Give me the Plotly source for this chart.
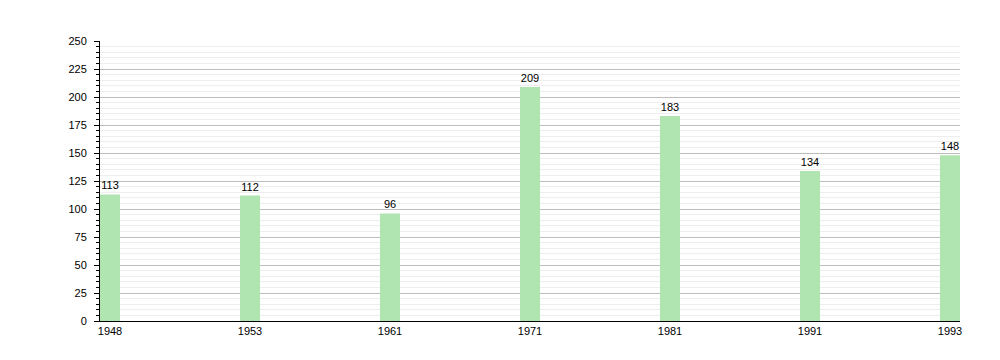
import plotly.graph_objects as go

years = ["1948", "1953", "1961", "1971", "1981", "1991", "1993"]
population = [113, 112, 96, 209, 183, 134, 148]
y_ticks = [0, 25, 50, 75, 100, 125, 150, 175, 200, 225, 250]

idx = list(range(len(years)))
w = 20 / 140

fig = go.Figure(go.Bar(
    x=idx, y=population, width=w,
    marker=dict(color="#b0e4b0", line=dict(width=0)),
    text=[str(v) for v in population], textposition="outside",
    textfont=dict(size=11, color="#000", family="Liberation Sans, Arial, sans-serif"),
    cliponaxis=False,
))

fig.update_layout(
    width=1000, height=360,
    margin=dict(l=100, r=40, t=41, b=39),
    paper_bgcolor="white", plot_bgcolor="white",
    font=dict(family="Liberation Sans, Arial, sans-serif", size=11, color="#000"),
    showlegend=False,
    xaxis=dict(
        range=[-w / 2, len(years) - 1 + w / 2],
        tickvals=idx, ticktext=years, ticks="", showgrid=False,
        showline=True, linecolor="#000", linewidth=1, zeroline=False,
    ),
    yaxis=dict(
        range=[0, 250], tickvals=y_ticks, ticks="outside", ticklen=5, tickcolor="#000",
        ticklabelstandoff=5,
        showline=True, linecolor="#000", linewidth=1, zeroline=False,
        showgrid=True, gridcolor="#bdbdbd", gridwidth=1,
        minor=dict(dtick=5, ticks="outside", ticklen=3, tickcolor="#000",
                   showgrid=True, gridcolor="#eeeeee", gridwidth=1),
    ),
)

fig.write_html("out.html")
